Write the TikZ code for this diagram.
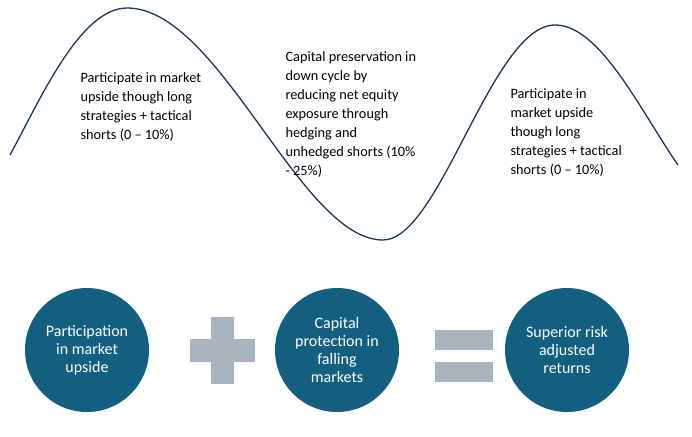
\documentclass[tikz,border=0pt]{standalone}
\usepackage{fontspec}
\setmainfont{Carlito}
\begin{document}
\begin{tikzpicture}[x=1pt,y=-1pt,
  wave/.style={line width=1.3pt,draw=waveC},
  circ/.style={circle,fill=circC,minimum size=124pt,inner sep=0pt,text=white,align=center,font=\fontsize{16}{18}\selectfont},
  lab/.style={anchor=north west,align=left,font=\fontsize{14.3}{19}\selectfont,text=black},
  bar/.style={fill=barC,draw=none}]
\definecolor{waveC}{HTML}{1C3550}
\definecolor{circC}{HTML}{145E80}
\definecolor{barC}{HTML}{A9B4BF}
\useasboundingbox (0,0) rectangle (692,436);
\coordinate (s) at (10,155);
\coordinate (p1) at (127,8);
\coordinate (t1) at (383,240);
\coordinate (p2) at (555,25);
\coordinate (e) at (678,165);
\draw[wave] (s) .. controls (40,100) and (80,8) .. (p1)
  .. controls (220,8) and (300,240) .. (t1)
  .. controls (440,240) and (492,25) .. (p2)
  .. controls (600,25) and (640,110) .. (e);
\node[lab] (l1) at (77,69) {Participate in market\\upside though long\\strategies + tactical\\shorts (0 -- 10\%)};
\node[lab] (l2) at (282,48) {Capital preservation in\\down cycle by\\reducing net equity\\exposure through\\hedging and\\unhedged shorts (10\%\\- 25\%)};
\node[lab] (l3) at (507,85) {Participate in\\market upside\\though long\\strategies + tactical\\shorts (0 -- 10\%)};
\node[circ] (c1) at (87,350) {Participation\\in market\\upside};
\node[circ] (c2) at (337,350) {Capital\\protection in\\falling\\markets};
\node[circ] (c3) at (567,350) {Superior risk\\adjusted\\returns};
\fill[bar] (211,317) rectangle (234,384);
\fill[bar] (190,339) rectangle (255,362);
\fill[bar] (435,330) rectangle (493,350);
\fill[bar] (435,362) rectangle (493,382);
\end{tikzpicture}
\end{document}
